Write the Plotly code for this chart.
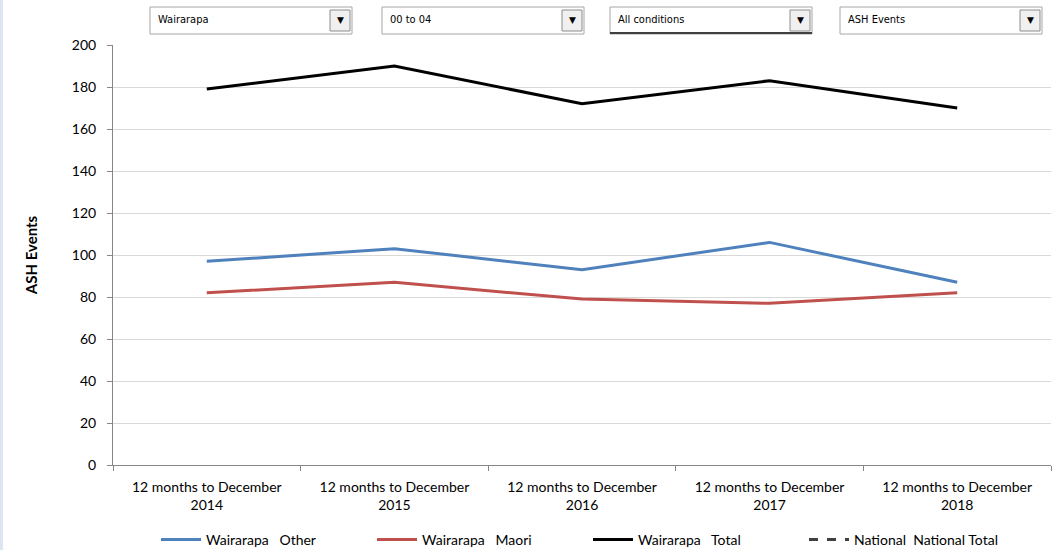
import plotly.graph_objects as go

# Reporting periods and series values (ASH events, ages 00 to 04)
periods = ["12 months to December<br>2014", "12 months to December<br>2015",
           "12 months to December<br>2016", "12 months to December<br>2017",
           "12 months to December<br>2018"]
wairarapa_other = [97, 103, 93, 106, 87]
wairarapa_maori = [82, 87, 79, 77, 82]
wairarapa_total = [179, 190, 172, 183, 170]
national_total = [None, None, None, None, None]

series_names = ["Wairarapa\u00a0\u00a0\u00a0Other", "Wairarapa\u00a0\u00a0\u00a0Maori",
                "Wairarapa\u00a0\u00a0\u00a0Total", "National\u00a0\u00a0National Total"]
y_ticks = [0, 20, 40, 60, 80, 100, 120, 140, 160, 180, 200]

# Selector labels shown above the chart
selector_labels = ["Wairarapa", "00 to 04", "All conditions", "ASH Events"]

W, H = 1052, 550
ML, MR, MT, MB = 113, 1, 45, 85
PW, PH = W - ML - MR, H - MT - MB

def px(x):
    return (x - ML) / PW

def py(y):
    return (H - MB - y) / PH

fig = go.Figure()
fig.add_trace(go.Scatter(x=periods, y=wairarapa_other, name=series_names[0], mode="lines",
                         line=dict(color="#4f81bd", width=3)))
fig.add_trace(go.Scatter(x=periods, y=wairarapa_maori, name=series_names[1], mode="lines",
                         line=dict(color="#c0504d", width=3)))
fig.add_trace(go.Scatter(x=periods, y=wairarapa_total, name=series_names[2], mode="lines",
                         line=dict(color="#000000", width=3)))
fig.add_trace(go.Scatter(x=periods, y=national_total, name=series_names[3], mode="lines",
                         line=dict(color="#404040", width=3, dash="dash")))

shapes = []
annotations = []

# page edge strip
shapes.append(dict(type="rect", xref="paper", yref="paper", x0=px(0), x1=px(3),
                   y0=py(550), y1=py(0), fillcolor="#dce6f2", line=dict(width=0), layer="below"))

# selector boxes
box_left = [150, 382, 610, 840]
box_w = 202
for i, (bx, label) in enumerate(zip(box_left, selector_labels)):
    shapes.append(dict(type="rect", xref="paper", yref="paper",
                       x0=px(bx), x1=px(bx + box_w), y0=py(34), y1=py(7),
                       fillcolor="white", line=dict(color="#a6a6a6", width=1)))
    if i == 2:
        shapes.append(dict(type="line", xref="paper", yref="paper",
                           x0=px(bx), x1=px(bx + box_w), y0=py(33), y1=py(33),
                           line=dict(color="#404040", width=2)))
    # arrow button
    shapes.append(dict(type="rect", xref="paper", yref="paper",
                       x0=px(bx + box_w - 22), x1=px(bx + box_w - 2), y0=py(31), y1=py(10),
                       fillcolor="#f0f0f0", line=dict(color="#8c8c8c", width=1)))
    annotations.append(dict(xref="paper", yref="paper", x=px(bx + box_w - 12), y=py(20.5),
                            text="\u25bc", showarrow=False, xanchor="center", yanchor="middle",
                            font=dict(size=9, color="#000000", family="DejaVu Sans")))
    annotations.append(dict(xref="paper", yref="paper", x=px(bx + 6), y=py(20),
                            text=label, showarrow=False, xanchor="left", yanchor="middle",
                            font=dict(size=11, color="#000000",
                                      family="DejaVu Sans Condensed, Liberation Sans Narrow, Arial")))

fig.update_layout(
    width=W, height=H,
    margin=dict(l=ML, r=MR, t=MT, b=MB, pad=0, autoexpand=False),
    paper_bgcolor="white", plot_bgcolor="white",
    font=dict(family="Lato, Carlito, Calibri, sans-serif", size=14, color="#000000"),
    showlegend=True,
    legend=dict(orientation="h", x=px(156), xanchor="left", y=py(540), yanchor="middle",
                entrywidth=161, entrywidthmode="pixels", font=dict(size=14),
                bgcolor="rgba(0,0,0,0)", itemwidth=40, tracegroupgap=0),
    shapes=shapes,
    annotations=annotations,
    xaxis=dict(type="category", range=[-0.5, 4.5], showgrid=False, showline=True,
               linecolor="#868686", linewidth=1, ticks="outside", tickson="boundaries",
               ticklen=5, tickcolor="#868686", tickfont=dict(size=14), zeroline=False,
               ticklabelstandoff=9),
    yaxis=dict(range=[0, 200], tickvals=y_ticks, showgrid=True, gridcolor="#d9d9d9",
               gridwidth=1, showline=True, linecolor="#868686", ticks="outside",
               ticklen=5, tickcolor="#868686", tickfont=dict(size=14), zeroline=False,
               ticklabelstandoff=8,
               title=dict(text="<b>ASH Events</b>", font=dict(size=15), standoff=30)),
)

fig.write_html("out.html")
